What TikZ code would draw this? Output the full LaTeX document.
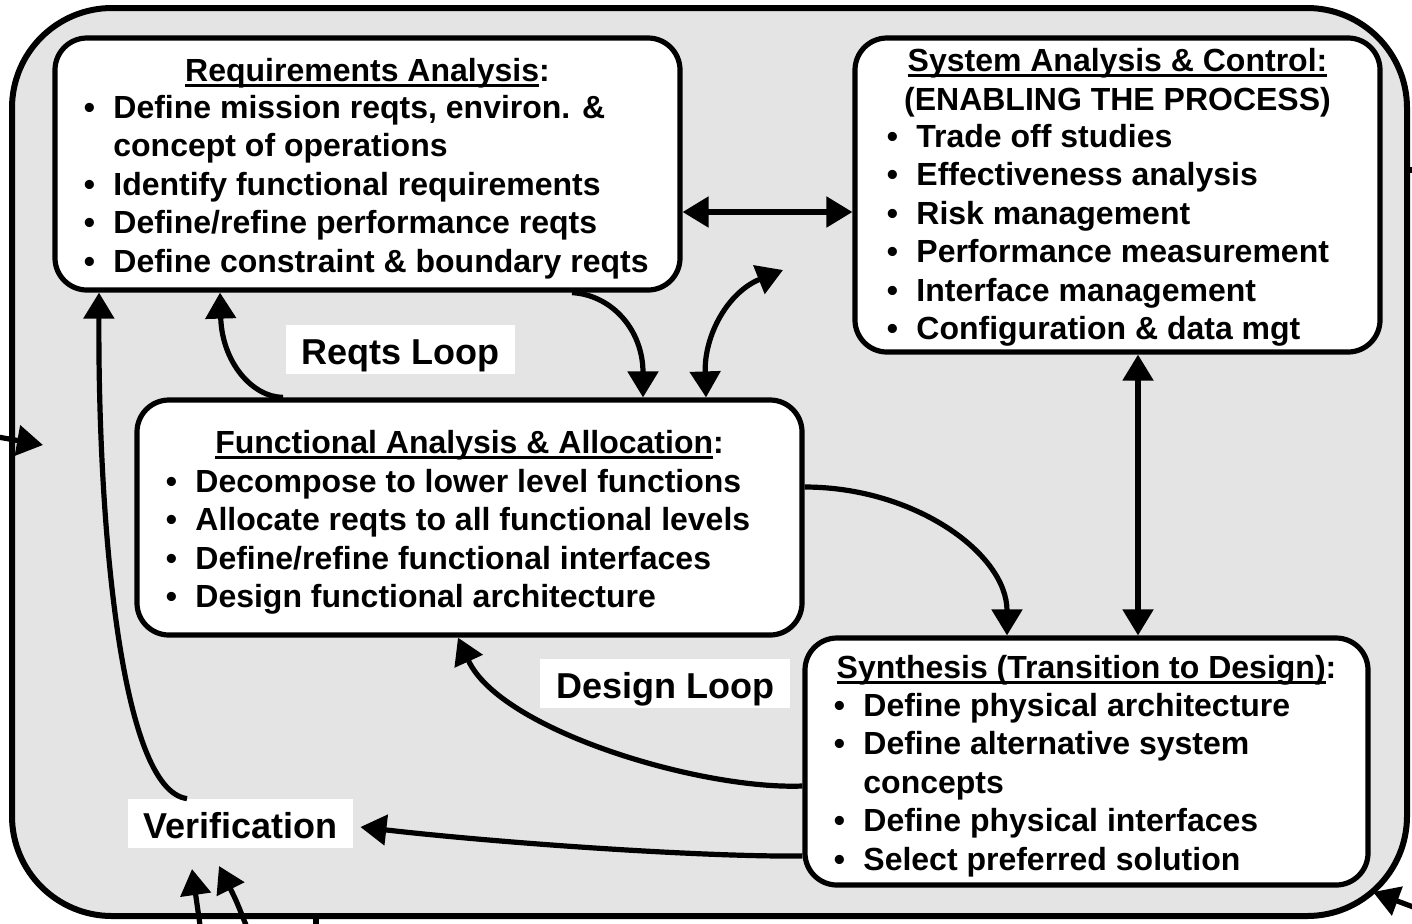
\documentclass[tikz,border=0pt]{standalone}
\usepackage{fontspec}
\setmainfont{Liberation Sans}
\usetikzlibrary{arrows.meta,calc}

\definecolor{panel}{HTML}{E4E4E4}

% heading underline: a fixed rule below the baseline, as wide as the text
\newsavebox{\ulbox}
\newcommand{\ulhead}[1]{\sbox{\ulbox}{#1}\rlap{\rule[-2.8pt]{\wd\ulbox}{1.1pt}}\usebox{\ulbox}}

\tikzset{
  framebox/.style={draw, line width=3pt, fill=panel, rounded corners=50pt, inner sep=0pt},
  stagebox/.style={draw, line width=2.6pt, fill=white, rounded corners=16pt, inner sep=0pt},
  bodytext/.style={font=\fontsize{16}{19.25}\selectfont\bfseries, inner sep=0pt},
  headtext/.style={bodytext, anchor=base},
  looptag/.style={fill=white, font=\fontsize{18}{21}\selectfont\bfseries, inner sep=0pt,
                  text height=15.4pt, text depth=0pt, minimum height=24.5pt},
  tip/.tip={Triangle[length=13pt,width=15pt]},
  flow/.style={line width=2.6pt, -tip},
  twoway/.style={line width=2.6pt, tip-tip},
}

\begin{document}
\begin{tikzpicture}[x=0.5pt,y=-0.5pt]
\useasboundingbox (0,0) rectangle (1412,923);

% surrounding panel
\node[framebox, minimum width=697.5pt, minimum height=454pt] (frame) at (709.5,462) {};

% the four activity boxes
\node[stagebox, minimum width=312.5pt, minimum height=126pt] (ra)  at (367.5,164) {};
\node[stagebox, minimum width=262.5pt, minimum height=157pt] (sac) at (1117.5,195) {};
\node[stagebox, minimum width=332.5pt, minimum height=117.5pt] (fa) at (469.5,517.5) {};
\node[stagebox, minimum width=281.5pt, minimum height=123.5pt] (syn) at (1086.5,761.5) {};

% Requirements Analysis
\node[headtext] (rahead) at (367.5,81) {\ulhead{Requirements Analysis}:};
\node[bodytext, anchor=base west] (ralist) at (83.4,118) {%
\begin{tabular}[t]{@{}l@{\hspace{9.2pt}}l@{}}
• & Define mission reqts, environ. \& \\
  & concept of operations \\
• & Identify functional requirements \\
• & Define/refine performance reqts \\
• & Define constraint \& boundary reqts
\end{tabular}};

% System Analysis & Control
\node[headtext] (sachead) at (1117.5,71) {\ulhead{System Analysis \& Control:}};
\node[headtext] (sacsub) at (1117.5,110) {(ENABLING THE PROCESS)};
\node[bodytext, anchor=base west] (saclist) at (886.4,147) {%
\begin{tabular}[t]{@{}l@{\hspace{9.2pt}}l@{}}
• & Trade off studies \\
• & Effectiveness analysis \\
• & Risk management \\
• & Performance measurement \\
• & Interface management \\
• & Configuration \& data mgt
\end{tabular}};

% Functional Analysis & Allocation
\node[headtext] (fahead) at (469.5,453) {\ulhead{Functional Analysis \& Allocation}:};
\node[bodytext, anchor=base west] (falist) at (165.4,492) {%
\begin{tabular}[t]{@{}l@{\hspace{9.2pt}}l@{}}
• & Decompose to lower level functions \\
• & Allocate reqts to all functional levels \\
• & Define/refine functional interfaces \\
• & Design functional architecture
\end{tabular}};

% Synthesis
\node[headtext] (synhead) at (1086.5,678) {\ulhead{Synthesis (Transition to Design)}:};
\node[bodytext, anchor=base west] (synlist) at (833.4,716) {%
\begin{tabular}[t]{@{}l@{\hspace{9.2pt}}l@{}}
• & Define physical architecture \\
• & Define alternative system \\
  & concepts \\
• & Define physical interfaces \\
• & Select preferred solution
\end{tabular}};

% loop labels
\node[looptag, minimum width=114.5pt] (rloop) at (400.5,349.5) {Reqts Loop};
\node[looptag, minimum width=125pt] (dloop) at (665,683.5) {Design Loop};
\node[looptag, minimum width=112.5pt] (ver) at (240.5,823.5) {Verification};

% free ends of the open connectors
\coordinate (sacfree) at (783,270);
\coordinate (inLs) at (-2,437);
\coordinate (inLe) at (43,445);
\coordinate (inB1s) at (200,925);
\coordinate (inB1e) at (192,869);
\coordinate (inB2s) at (246,925);
\coordinate (inB2e) at (219,866);
\coordinate (inRs) at (1416,908);
\coordinate (inRe) at (1373,892);
\coordinate (stubBs) at (316,913);
\coordinate (stubBe) at (316,925);
\coordinate (stubRs) at (1407,170);
\coordinate (stubRe) at (1414,170);

% connectors between the boxes
\draw[twoway] (ra.east |- 0,212) -- (sac.west |- 0,212);
\draw[flow] (ra.south -| 572,0) .. controls (612,295) and (643,330) .. (fa.north -| 643,0);
\draw[twoway] (fa.north -| 706,0) .. controls (704,335) and (728,292) .. (sacfree);
\draw[flow] (fa.north -| 283,0) .. controls (252,397) and (222,362) .. (ra.south -| 220,0);
\draw[flow] (ver.north -| 187,0) .. controls (120,790) and (98,520) .. (ra.south -| 99,0);
\draw[flow] (fa.east |- 0,487) .. controls (915,487) and (1007,554) .. (syn.north -| 1007,0);
\draw[twoway] (sac.south -| 1138,0) -- (syn.north -| 1138,0);
\draw[flow] (syn.west |- 0,786) .. controls (700,790) and (500,730) .. (fa.south -| 458,0);
\draw[flow] (syn.west |- 0,856) .. controls (700,857) and (500,843) .. ($(ver.east)+(7,3.5)$);

% connectors entering from outside the panel
\draw[flow] (inLs) -- (inLe);
\draw[flow] (inB1s) -- (inB1e);
\draw[flow] (inB2s) .. controls (236,900) .. (inB2e);
\draw[flow] (inRs) -- (inRe);
\draw[line width=2.6pt] (stubBs) -- (stubBe);
\draw[line width=2.6pt] (stubRs) -- (stubRe);
\end{tikzpicture}
\end{document}
